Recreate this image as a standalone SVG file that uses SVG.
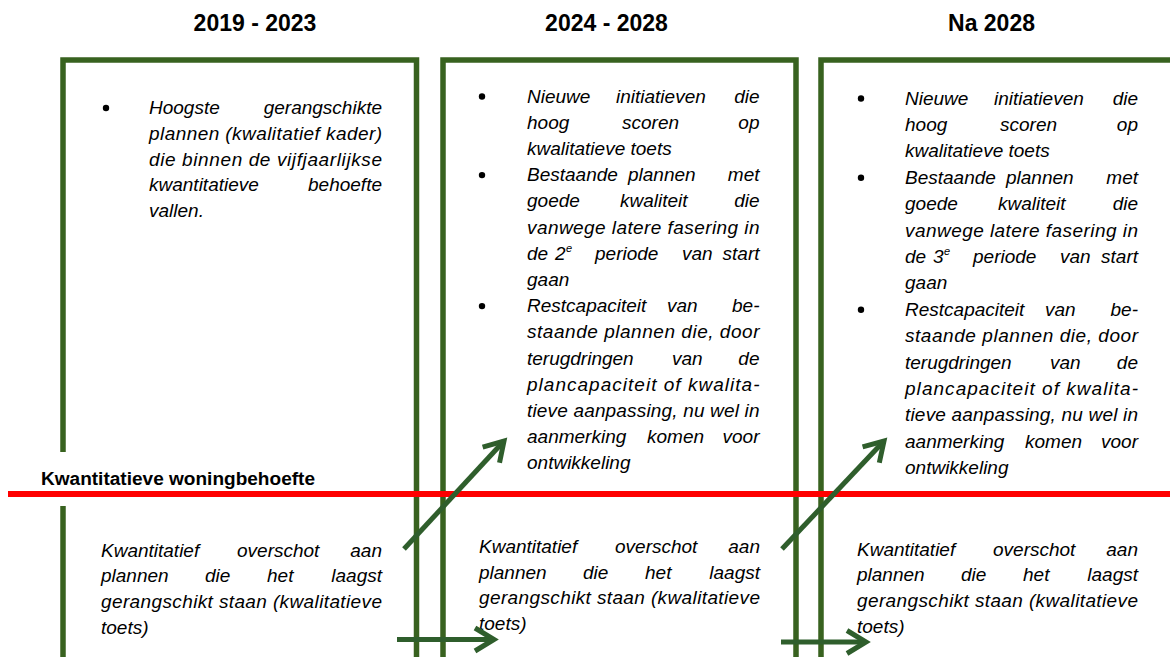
<svg xmlns="http://www.w3.org/2000/svg" width="1170" height="657" viewBox="0 0 1170 657">
<style>
.bg{fill:#ffffff}
.box{fill:none;stroke:#38621f;stroke-width:5.5;stroke-linejoin:miter}
.hd{font-family:"Liberation Sans",Arial,sans-serif;font-weight:bold;font-size:23px;fill:#000;text-anchor:middle}
.t{font-family:"Liberation Sans",Arial,sans-serif;font-style:italic;font-size:19px;fill:#000}
.e{text-anchor:end}
.m{text-anchor:middle}
.sup{font-family:"Liberation Sans",Arial,sans-serif;font-style:italic;font-size:11px;fill:#000}
.lbl{font-family:"Liberation Sans",Arial,sans-serif;font-weight:bold;font-size:18px;fill:#000}
.bul{fill:#000}
.red{stroke:#ff0000;stroke-width:6;fill:none}
.arr{stroke:#2f5e2c;stroke-width:5;fill:none;marker-end:url(#ah)}
</style>
<defs>
<marker id="ah" markerUnits="userSpaceOnUse" markerWidth="40" markerHeight="40" viewBox="-30 -20 40 40" refX="0" refY="0" orient="auto" overflow="visible">
<path d="M-19,-11.5 L0,0 L-19,11.5" fill="none" stroke="#2f5e2c" stroke-width="5" stroke-linejoin="miter"/>
</marker>
</defs>
<rect class="bg" x="0" y="0" width="1170" height="657"/>

<g id="headers">
<text class="hd" x="255" y="31">2019 - 2023</text>
<text class="hd" x="606.5" y="31">2024 - 2028</text>
<text class="hd" x="991.5" y="31">Na 2028</text>
</g>

<g id="box-2019">
<path class="box" d="M63,452 V60 H416.5 V662"/>
<path class="box" d="M63,506 V662"/>
<circle class="bul" cx="106" cy="108" r="3.2"/>
<text class="t" x="149" y="114">Hoogste</text>
<text class="t e" x="382" y="114">gerangschikte</text>
<text class="t" x="149" y="139.8" textLength="233" lengthAdjust="spacing">plannen (kwalitatief kader)</text>
<text class="t" x="149" y="165.6" textLength="233" lengthAdjust="spacing">die binnen de vijfjaarlijkse</text>
<text class="t" x="149" y="191.4">kwantitatieve</text>
<text class="t e" x="382" y="191.4">behoefte</text>
<text class="t" x="149" y="217.2">vallen.</text>
<text class="t" x="101" y="556.5">Kwantitatief</text>
<text class="t" x="237" y="556.5">overschot</text>
<text class="t e" x="382" y="556.5">aan</text>
<text class="t" x="101" y="582.2">plannen</text>
<text class="t" x="205" y="582.2">die</text>
<text class="t" x="267" y="582.2">het</text>
<text class="t e" x="382" y="582.2">laagst</text>
<text class="t" x="101" y="607.9" textLength="281" lengthAdjust="spacing">gerangschikt staan (kwalitatieve</text>
<text class="t" x="101" y="633.6">toets)</text>
</g>

<g id="box-2024">
<path class="box" d="M443,662 V60 H796 V662"/>
<circle class="bul" cx="482" cy="96.5" r="3.2"/>
<text class="t" x="527" y="102.5">Nieuwe</text>
<text class="t" x="616" y="102.5">initiatieven</text>
<text class="t e" x="759.5" y="102.5">die</text>
<text class="t" x="527" y="128.7">hoog</text>
<text class="t" x="622" y="128.7">scoren</text>
<text class="t e" x="759.5" y="128.7">op</text>
<text class="t" x="527" y="154.9">kwalitatieve toets</text>
<circle class="bul" cx="482" cy="175.1" r="3.2"/>
<text class="t" x="527" y="181.1">Bestaande</text>
<text class="t" x="628" y="181.1">plannen</text>
<text class="t e" x="759.5" y="181.1">met</text>
<text class="t" x="527" y="207.3">goede</text>
<text class="t" x="620" y="207.3">kwaliteit</text>
<text class="t e" x="759.5" y="207.3">die</text>
<text class="t" x="527" y="233.5" textLength="232.5" lengthAdjust="spacing">vanwege latere fasering in</text>
<text class="t" x="527" y="259.7">de</text>
<text class="t" x="555" y="259.7">2</text>
<text class="sup" x="566" y="251.5">e</text>
<text class="t" x="595" y="259.7">periode</text>
<text class="t" x="682" y="259.7">van</text>
<text class="t e" x="759.5" y="259.7">start</text>
<text class="t" x="527" y="285.9">gaan</text>
<circle class="bul" cx="482" cy="306.1" r="3.2"/>
<text class="t" x="527" y="312.1">Restcapaciteit</text>
<text class="t" x="667" y="312.1">van</text>
<text class="t e" x="759.5" y="312.1">be-</text>
<text class="t" x="527" y="338.3" textLength="232.5" lengthAdjust="spacing">staande plannen die, door</text>
<text class="t" x="527" y="364.5">terugdringen</text>
<text class="t" x="672" y="364.5">van</text>
<text class="t e" x="759.5" y="364.5">de</text>
<text class="t" x="527" y="390.7" textLength="232.5" lengthAdjust="spacing">plancapaciteit of kwalita-</text>
<text class="t" x="527" y="416.9" textLength="232.5" lengthAdjust="spacing">tieve aanpassing, nu wel in</text>
<text class="t" x="527" y="443.1">aanmerking</text>
<text class="t" x="647" y="443.1">komen</text>
<text class="t e" x="759.5" y="443.1">voor</text>
<text class="t" x="527" y="469.3">ontwikkeling</text>
<text class="t" x="479" y="553">Kwantitatief</text>
<text class="t" x="615" y="553">overschot</text>
<text class="t e" x="760" y="553">aan</text>
<text class="t" x="479" y="578.7">plannen</text>
<text class="t" x="583" y="578.7">die</text>
<text class="t" x="645" y="578.7">het</text>
<text class="t e" x="760" y="578.7">laagst</text>
<text class="t" x="479" y="604.4" textLength="281" lengthAdjust="spacing">gerangschikt staan (kwalitatieve</text>
<text class="t" x="479" y="630.1">toets)</text>
</g>

<g id="box-na2028">
<path class="box" d="M821,662 V60 H1175"/>
<circle class="bul" cx="861" cy="98.5" r="3.2"/>
<text class="t" x="905" y="104.5">Nieuwe</text>
<text class="t" x="994" y="104.5">initiatieven</text>
<text class="t e" x="1138" y="104.5">die</text>
<text class="t" x="905" y="130.9">hoog</text>
<text class="t" x="1000" y="130.9">scoren</text>
<text class="t e" x="1138" y="130.9">op</text>
<text class="t" x="905" y="157.3">kwalitatieve toets</text>
<circle class="bul" cx="861" cy="177.7" r="3.2"/>
<text class="t" x="905" y="183.7">Bestaande</text>
<text class="t" x="1006" y="183.7">plannen</text>
<text class="t e" x="1138" y="183.7">met</text>
<text class="t" x="905" y="210.1">goede</text>
<text class="t" x="998" y="210.1">kwaliteit</text>
<text class="t e" x="1138" y="210.1">die</text>
<text class="t" x="905" y="236.5" textLength="233" lengthAdjust="spacing">vanwege latere fasering in</text>
<text class="t" x="905" y="262.9">de</text>
<text class="t" x="933" y="262.9">3</text>
<text class="sup" x="944" y="254.7">e</text>
<text class="t" x="973" y="262.9">periode</text>
<text class="t" x="1060" y="262.9">van</text>
<text class="t e" x="1138" y="262.9">start</text>
<text class="t" x="905" y="289.3">gaan</text>
<circle class="bul" cx="861" cy="309.7" r="3.2"/>
<text class="t" x="905" y="315.7">Restcapaciteit</text>
<text class="t" x="1045" y="315.7">van</text>
<text class="t e" x="1138" y="315.7">be-</text>
<text class="t" x="905" y="342.1" textLength="233" lengthAdjust="spacing">staande plannen die, door</text>
<text class="t" x="905" y="368.5">terugdringen</text>
<text class="t" x="1050" y="368.5">van</text>
<text class="t e" x="1138" y="368.5">de</text>
<text class="t" x="905" y="394.9" textLength="233" lengthAdjust="spacing">plancapaciteit of kwalita-</text>
<text class="t" x="905" y="421.3" textLength="233" lengthAdjust="spacing">tieve aanpassing, nu wel in</text>
<text class="t" x="905" y="447.7">aanmerking</text>
<text class="t" x="1025" y="447.7">komen</text>
<text class="t e" x="1138" y="447.7">voor</text>
<text class="t" x="905" y="474.1">ontwikkeling</text>
<text class="t" x="857" y="555.5">Kwantitatief</text>
<text class="t" x="993" y="555.5">overschot</text>
<text class="t e" x="1138" y="555.5">aan</text>
<text class="t" x="857" y="581.2">plannen</text>
<text class="t" x="961" y="581.2">die</text>
<text class="t" x="1023" y="581.2">het</text>
<text class="t e" x="1138" y="581.2">laagst</text>
<text class="t" x="857" y="606.9" textLength="281" lengthAdjust="spacing">gerangschikt staan (kwalitatieve</text>
<text class="t" x="857" y="632.6">toets)</text>
</g>

<g id="threshold">
<line class="red" x1="8" y1="494" x2="1170" y2="494"/>
<text class="lbl" x="41" y="485" textLength="274" lengthAdjust="spacingAndGlyphs">Kwantitatieve woningbehoefte</text>
</g>

<g id="connectors">
<path class="arr" d="M404,549 L504,441"/>
<path class="arr" d="M397,639.5 L494,639.5"/>
<path class="arr" d="M782,549 L884,441"/>
<path class="arr" d="M781,642 L866,642"/>
</g>
</svg>
